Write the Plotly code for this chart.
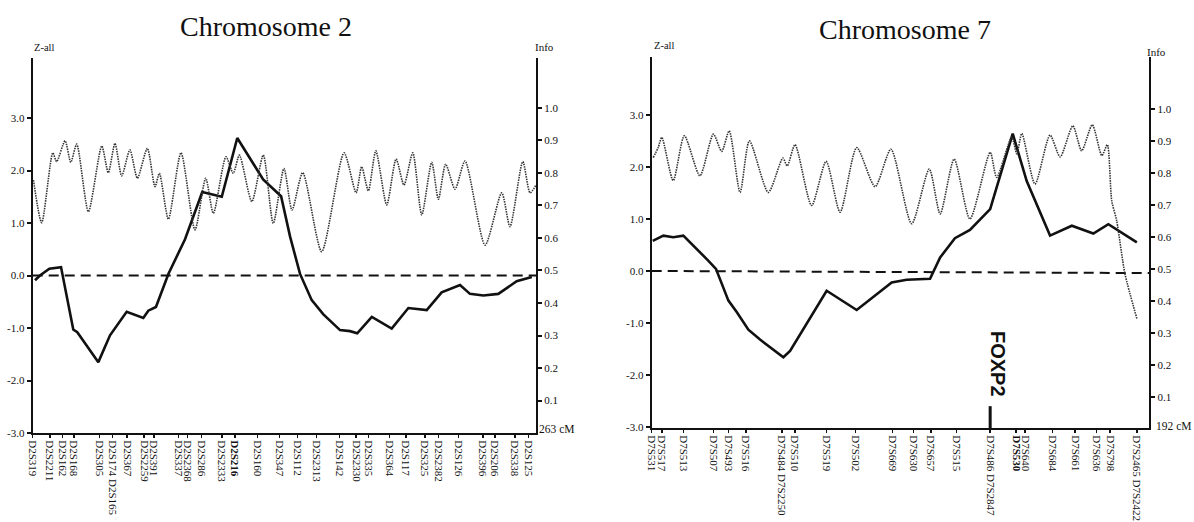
import plotly.graph_objects as go

# ---------------- Chromosome 2 ----------------
chr2_markers = ["D2S319", "D2S2211", "D2S162", "D2S168", "D2S305", "D2S174 D2S165", "D2S367",
                "D2S2259", "D2S391", "D2S337", "D2S2368", "D2S286", "D2S2333", "<b>D2S216</b>",
                "D2S160", "D2S347", "D2S112", "D2S2313", "D2S142", "D2S2330", "D2S335", "D2S364",
                "D2S117", "D2S325", "D2S2382", "D2S126", "D2S396", "D2S206", "D2S338", "D2S125"]
chr2_marker_cm = [0, 9.0, 15.7, 21.6, 34.8, 41.8, 49.4, 58.2, 63.4, 76.1, 80.8, 88.3, 98.8, 105.7,
                  117.4, 128.9, 138.3, 148.4, 160.2, 169.0, 175.4, 186.4, 195.1, 205.0, 212.0,
                  222.4, 235.2, 241.6, 252.0, 259.0]

chr2_z_cm = [1.2, 3.8, 8.7, 14.8, 21.2, 23.3, 34.3, 40.4, 49.1, 57.8, 60.4, 64.4, 70.9, 79.6, 88.6,
             98.8, 106.9, 120.4, 129.8, 134.5, 139.7, 145.8, 151.9, 160.6, 165.8, 169.6, 177.2,
             187.6, 196.3, 205.9, 213.7, 223.3, 228.5, 235.5, 243.3, 252.9, 260.8]
chr2_z = [-0.09, 0.0, 0.13, 0.16, -1.03, -1.08, -1.65, -1.14, -0.69, -0.81, -0.67, -0.60, 0.03, 0.69,
          1.59, 1.50, 2.62, 1.83, 1.51, 0.74, 0.03, -0.47, -0.74, -1.04, -1.06, -1.10, -0.79, -1.01,
          -0.62, -0.66, -0.32, -0.18, -0.35, -0.38, -0.35, -0.11, -0.03]

chr2_info_cm = [0.4, 4.7, 10.5, 12.5, 16.9, 19.9, 23.0, 29.1, 36.1, 39.5, 43.0, 46.5, 50.8, 54.7,
                59.9, 63.9, 66.2, 70.9, 77.5, 84.8, 90.4, 94.4, 101.0, 104.8, 108.0, 114.5, 120.5,
                125.7, 131.3, 135.5, 141.1, 151.0, 162.7, 169.0, 171.9, 175.4, 179.3, 185.0, 189.9,
                194.0, 198.6, 203.3, 208.5, 212.0, 215.8, 220.7, 225.9, 236.4, 245.1, 249.4, 256.1,
                259.9, 263.0]
chr2_info = [0.778, 0.647, 0.862, 0.835, 0.899, 0.833, 0.889, 0.681, 0.883, 0.801, 0.891, 0.791,
             0.871, 0.784, 0.876, 0.758, 0.799, 0.658, 0.862, 0.625, 0.784, 0.676, 0.850, 0.799,
             0.855, 0.712, 0.855, 0.645, 0.814, 0.686, 0.801, 0.558, 0.862, 0.739, 0.819, 0.745,
             0.868, 0.702, 0.843, 0.763, 0.862, 0.671, 0.833, 0.719, 0.827, 0.750, 0.837, 0.578,
             0.739, 0.635, 0.835, 0.739, 0.763]

# ---------------- Chromosome 7 ----------------
chr7_markers = ["D7S531", "D7S517", "D7S513", "D7S507", "D7S493", "D7S516", "D7S484 D7S2250",
                "D7S510", "D7S519", "D7S502", "D7S669", "D7S630", "D7S657", "D7S515",
                "D7S486 D7S2847", "<b>D7S530</b>", "D7S640", "D7S684", "D7S661", "D7S636", "D7S798",
                "D7S2465 D7S2422"]
chr7_marker_cm = [0, 3.9, 12.2, 23.8, 29.6, 36.4, 50.2, 55.3, 67.5, 78.7, 93.0, 101.0, 107.7, 117.7,
                  130.6, 140.6, 144.1, 154.7, 163.4, 171.7, 176.9, 187.2]

chr7_z_cm = [0.4, 4.5, 8.3, 12.2, 21.8, 24.8, 29.6, 32.8, 37.3, 41.8, 50.8, 53.4, 67.5, 79.1, 92.6,
             98.4, 107.4, 111.3, 117.0, 122.8, 130.6, 139.3, 144.7, 153.7, 162.1, 170.4, 176.2,
             187.2]
chr7_z = [0.58, 0.68, 0.65, 0.68, 0.20, 0.04, -0.57, -0.79, -1.13, -1.32, -1.66, -1.54, -0.38, -0.75,
          -0.22, -0.17, -0.15, 0.26, 0.63, 0.79, 1.19, 2.64, 1.73, 0.68, 0.87, 0.72, 0.90, 0.55]

chr7_info_cm = [0.6, 2.5, 3.9, 8.3, 12.6, 18.6, 23.8, 27.0, 29.9, 34.1, 37.7, 45.0, 50.6, 52.3, 55.3,
                61.7, 67.3, 72.7, 79.1, 86.2, 92.3, 100.3, 107.1, 111.3, 116.7, 122.8, 130.6, 133.1,
                138.9, 140.9, 142.8, 147.9, 153.7, 157.6, 162.5, 165.9, 170.0, 173.7, 175.8, 177.5,
                179.4, 182.6, 187.2]
chr7_info = [0.849, 0.880, 0.912, 0.777, 0.917, 0.792, 0.922, 0.868, 0.932, 0.740, 0.901, 0.740,
             0.847, 0.823, 0.889, 0.699, 0.837, 0.678, 0.880, 0.758, 0.875, 0.642, 0.813, 0.673,
             0.844, 0.657, 0.865, 0.787, 0.912, 0.860, 0.924, 0.766, 0.919, 0.851, 0.948, 0.870,
             0.951, 0.855, 0.889, 0.714, 0.652, 0.486, 0.346]

z_ticks = [-3.0, -2.0, -1.0, 0.0, 1.0, 2.0, 3.0]
info_ticks = [0.1, 0.2, 0.3, 0.4, 0.5, 0.6, 0.7, 0.8, 0.9, 1.0]

W, H = 1194, 522
SERIF = "Liberation Serif, Times New Roman, serif"


def px(x):
    return x / W


def py(y):
    return 1 - y / H


fig = go.Figure()

# chr 2 traces
fig.add_trace(go.Scatter(x=[0, 263], y=[0, 0], xaxis="x", yaxis="y", mode="lines",
                         line=dict(color="#111", width=2, dash="10px,6px"), showlegend=False))
fig.add_trace(go.Scatter(x=chr2_info_cm, y=chr2_info, xaxis="x", yaxis="y2", mode="lines",
                         line=dict(color="#333", width=1.6, dash="1.5px,1px", shape="spline",
                                   smoothing=0.7), showlegend=False))
fig.add_trace(go.Scatter(x=chr2_z_cm, y=chr2_z, xaxis="x", yaxis="y", mode="lines",
                         line=dict(color="#111", width=2.6), showlegend=False))

# chr 7 traces
fig.add_trace(go.Scatter(x=[0, 192], y=[0, -0.04], xaxis="x2", yaxis="y3", mode="lines",
                         line=dict(color="#111", width=2, dash="10px,6px"), showlegend=False))
fig.add_trace(go.Scatter(x=chr7_info_cm, y=chr7_info, xaxis="x2", yaxis="y4", mode="lines",
                         line=dict(color="#333", width=1.6, dash="1.5px,1px", shape="spline",
                                   smoothing=0.7), showlegend=False))
fig.add_trace(go.Scatter(x=chr7_z_cm, y=chr7_z, xaxis="x2", yaxis="y3", mode="lines",
                         line=dict(color="#111", width=2.6), showlegend=False))

tickfont = dict(family=SERIF, size=11, color="#111")

common_y = dict(showgrid=False, zeroline=False, showline=True, linewidth=2, linecolor="#111",
                ticks="outside", ticklen=4, tickwidth=2, tickcolor="#111", tickfont=tickfont,
                fixedrange=True, automargin=False)
common_x = dict(showgrid=False, zeroline=False, showline=True, linewidth=2, linecolor="#111",
                ticks="outside", ticklen=3, tickwidth=1.5, tickcolor="#111", tickangle=90,
                tickfont=tickfont, automargin=False, fixedrange=True, tickmode="array")

d2 = [py(433), py(58)]
d7 = [py(428), py(57)]

fig.update_layout(
    width=W, height=H, margin=dict(l=0, r=0, t=0, b=0),
    paper_bgcolor="white", plot_bgcolor="white", showlegend=False,
    xaxis=dict(common_x, domain=[px(32.7), px(536)], range=[0, 263], anchor="y",
               tickvals=chr2_marker_cm, ticktext=chr2_markers),
    yaxis=dict(common_y, domain=d2, range=[-3, 4.143], anchor="x",
               tickvals=z_ticks, ticktext=["%.1f" % v for v in z_ticks]),
    yaxis2=dict(common_y, overlaying="y", side="right", anchor="x", range=[0, 1.1538],
                tickvals=info_ticks, ticktext=["%.1f" % v for v in info_ticks]),
    xaxis2=dict(common_x, domain=[px(651.7), px(1149.3)], range=[0, 192], anchor="y3",
                tickvals=chr7_marker_cm, ticktext=chr7_markers),
    yaxis3=dict(common_y, domain=d7, range=[-3.02, 4.115], anchor="x2",
                tickvals=z_ticks, ticktext=["%.1f" % v for v in z_ticks]),
    yaxis4=dict(common_y, overlaying="y3", side="right", anchor="x2", range=[0.004, 1.163],
                tickvals=info_ticks, ticktext=["%.1f" % v for v in info_ticks]),
)


def ann(text, x, y, size, family=SERIF, angle=0, xanchor="center"):
    fig.add_annotation(text=text, x=px(x), y=py(y), xref="paper", yref="paper",
                       showarrow=False, xanchor=xanchor, yanchor="middle", textangle=angle,
                       font=dict(family=family, size=size, color="#111"))


ann("Chromosome 2", 266, 27, 28)
ann("Chromosome 7", 905, 29, 28)
ann("Z-all", 43.5, 47.5, 10.5)
ann("Info", 544, 47.5, 11)
ann("Z-all", 663.5, 45.5, 10.5)
ann("Info", 1156.5, 51.5, 11)
ann("263 cM", 537, 429, 11.5, xanchor="left")
ann("192 cM", 1154, 426, 11.5, xanchor="left")
ann("<b>FOXP2</b>", 998, 364, 20, family="Liberation Sans, Arial, sans-serif", angle=90)

# FOXP2 position marker (at D7S486)
fig.add_shape(type="line", xref="x2", yref="y3", x0=chr7_marker_cm[14], x1=chr7_marker_cm[14],
              y0=-2.60, y1=-3.02, line=dict(color="#111", width=3))

fig.write_html("out.html", config={"displayModeBar": False, "staticPlot": True},
               post_script="document.body.style.margin='0';document.body.style.overflow='hidden';")
